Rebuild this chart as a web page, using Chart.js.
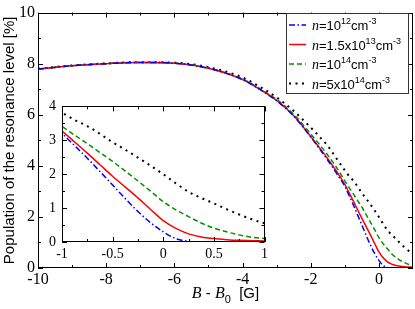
<!DOCTYPE html>
<html lang="en">
<head>
<meta charset="UTF-8" />
<title>Population of the resonance level</title>
<script src="https://cdn.jsdelivr.net/npm/chart.js"></script>
<style>
  html, body { margin: 0; padding: 0; background: #fff; }
  #wrap { position: relative; width: 415px; height: 309px; }
  #mainChart { position: absolute; left: 0; top: 0; }
  #insetChart { position: absolute; left: 40px; top: 92px; }
</style>
</head>
<body>
<div id="wrap">
  <canvas id="mainChart" width="415" height="309"></canvas>
  <canvas id="insetChart" width="232" height="172"></canvas>
</div>
<script>
// B - B0 [G]
const bField = [-10, -9, -8, -7, -6, -5, -4, -3.5, -3, -2.5, -2, -1.75, -1.5, -1.25, -1,
  -0.875, -0.75, -0.625, -0.5, -0.375, -0.25, -0.125, 0, 0.125, 0.25, 0.375, 0.5, 0.625, 0.75, 0.875, 1];

// population [%] for each density
const popN1e12 = [7.79, 7.92, 8.0, 8.05, 8.02, 7.82, 7.38, 7.0, 6.55, 5.95, 5.13, 4.68, 4.22, 3.72, 3.2,
  2.84, 2.47, 2.08, 1.68, 1.28, 0.9, 0.57, 0.3, 0.1, 0.02, 0, 0, 0, 0, 0, 0];
const popN15e13 = [7.79, 7.92, 8.0, 8.05, 8.02, 7.82, 7.38, 7.0, 6.56, 5.96, 5.15, 4.72, 4.28, 3.8, 3.27,
  2.95, 2.62, 2.28, 1.94, 1.62, 1.3, 0.96, 0.63, 0.4, 0.24, 0.15, 0.1, 0.07, 0.05, 0.04, 0.03];
const popN1e14 = [7.79, 7.92, 8.0, 8.05, 8.02, 7.83, 7.4, 7.03, 6.6, 6.02, 5.25, 4.85, 4.42, 3.95, 3.41,
  3.15, 2.9, 2.64, 2.38, 2.09, 1.8, 1.5, 1.19, 0.95, 0.75, 0.56, 0.41, 0.3, 0.21, 0.14, 0.1];
const popN5e14 = [7.8, 7.93, 8.01, 8.06, 8.04, 7.86, 7.46, 7.1, 6.68, 6.15, 5.5, 5.15, 4.78, 4.3, 3.82,
  3.6, 3.42, 3.19, 2.94, 2.72, 2.49, 2.25, 2.0, 1.73, 1.48, 1.3, 1.14, 0.97, 0.81, 0.67, 0.55];

// legend labels: [text, kind]  i = italic, s = superscript
const labelN1e12 = [['n', 'i'], ['=10', ''], ['12', 's'], ['cm', ''], ['-3', 's']];
const labelN15e13 = [['n', 'i'], ['=1.5x10', ''], ['13', 's'], ['cm', ''], ['-3', 's']];
const labelN1e14 = [['n', 'i'], ['=10', ''], ['14', 's'], ['cm', ''], ['-3', 's']];
const labelN5e14 = [['n', 'i'], ['=5x10', ''], ['14', 's'], ['cm', ''], ['-3', 's']];

const mainXTicks = [-10, -8, -6, -4, -2, 0];
const mainYTicks = [0, 2, 4, 6, 8, 10];
const insetXTicks = [-1, -0.5, 0, 0.5, 1];
const insetYTicks = [0, 1, 2, 3, 4];

const yTitle = 'Population of the resonance level [%]';
const xTitle = [['B', 'i'], [' - ', ''], ['B', 'i'], ['0', 'b'], ['  [G]', '']];

const series = [
  { label: labelN1e12, data: popN1e12, color: '#0000ff', dash: [6, 2.5, 1.5, 2.5], width: 1.5 },
  { label: labelN15e13, data: popN15e13, color: '#ff0000', dash: [], width: 1.5 },
  { label: labelN1e14, data: popN1e14, color: '#009000', dash: [5, 3], width: 1.5 },
  { label: labelN5e14, data: popN5e14, color: '#000000', dash: [2, 4.5], width: 2 },
];

const makeDatasets = () => series.map(s => ({
  data: bField.map((x, i) => ({ x, y: s.data[i] })),
  borderColor: s.color,
  borderDash: s.dash,
  borderWidth: s.width,
  pointRadius: 0,
  fill: false,
  cubicInterpolationMode: 'monotone',
}));

function drawRich(ctx, x, y, parts, size) {
  for (const [t, k] of parts) {
    let dy = 0;
    if (k === 'i') ctx.font = `italic ${size + 1}px "Liberation Serif"`;
    else if (k === 's') { ctx.font = `${Math.round(size * 0.72)}px "Liberation Sans"`; dy = -size * 0.45; }
    else if (k === 'b') { ctx.font = `${Math.round(size * 0.72)}px "Liberation Sans"`; dy = size * 0.3; }
    else ctx.font = `${size}px "Liberation Sans"`;
    ctx.fillText(t, x, y + dy);
    x += ctx.measureText(t).width;
  }
  return x;
}

function richWidth(ctx, parts, size) {
  ctx.save();
  ctx.globalAlpha = 0;
  const w = drawRich(ctx, 0, 0, parts, size);
  ctx.restore();
  return w;
}

// box with inward ticks on all four sides
const frameTicks = (o) => ({
  id: 'frameTicks',
  beforeDatasetsDraw(chart) {
    if (!o.fillWhite) return;
    const { ctx, chartArea: a } = chart;
    ctx.save();
    ctx.fillStyle = '#fff';
    ctx.fillRect(a.left, a.top, a.right - a.left, a.bottom - a.top);
    ctx.restore();
  },
  afterDatasetsDraw(chart) {
    const { ctx, chartArea: a, scales: { x, y } } = chart;
    ctx.save();
    ctx.strokeStyle = '#000';
    ctx.lineWidth = 1;
    ctx.beginPath();
    const vx = (v, len) => {
      const p = Math.round(x.getPixelForValue(v)) + 0.5;
      ctx.moveTo(p, a.bottom); ctx.lineTo(p, a.bottom - len);
      ctx.moveTo(p, a.top); ctx.lineTo(p, a.top + len);
    };
    const vy = (v, len) => {
      const p = Math.round(y.getPixelForValue(v)) + 0.5;
      ctx.moveTo(a.left, p); ctx.lineTo(a.left + len, p);
      ctx.moveTo(a.right, p); ctx.lineTo(a.right - len, p);
    };
    o.xMajor.forEach(v => vx(v, 5));
    o.xMinor.forEach(v => vx(v, 3));
    o.yMajor.forEach(v => vy(v, 5));
    o.yMinor.forEach(v => vy(v, 3));
    ctx.stroke();
    ctx.strokeRect(Math.round(a.left) + 0.5, Math.round(a.top) + 0.5,
      Math.round(a.right - a.left) - 1, Math.round(a.bottom - a.top) - 1);
    ctx.restore();
  }
});

const mainDecor = {
  id: 'mainDecor',
  afterDraw(chart) {
    const { ctx, chartArea: a } = chart;
    ctx.save();
    ctx.fillStyle = '#000';

    // y title
    ctx.save();
    ctx.translate(10, (a.top + a.bottom) / 2);
    ctx.rotate(-Math.PI / 2);
    ctx.font = '15px "Liberation Sans"';
    ctx.textAlign = 'center';
    ctx.textBaseline = 'middle';
    ctx.fillText(yTitle, 0, 0);
    ctx.restore();

    // x title
    ctx.textAlign = 'left';
    ctx.textBaseline = 'alphabetic';
    const w = richWidth(ctx, xTitle, 15);
    drawRich(ctx, (a.left + a.right) / 2 - w / 2, 298, xTitle, 15);

    // legend
    const box = { x: 286.5, y: 13.5, w: 122, h: 80 };
    ctx.fillStyle = '#fff';
    ctx.fillRect(box.x, box.y, box.w, box.h);
    ctx.strokeStyle = '#333';
    ctx.lineWidth = 1;
    ctx.strokeRect(box.x, box.y, box.w, box.h);
    ctx.fillStyle = '#000';
    series.forEach((s, i) => {
      const cy = 25 + i * 19.5;
      ctx.save();
      ctx.strokeStyle = s.color;
      ctx.lineWidth = s.width;
      ctx.setLineDash(s.dash);
      ctx.beginPath();
      ctx.moveTo(289, cy);
      ctx.lineTo(306, cy);
      ctx.stroke();
      ctx.restore();
      drawRich(ctx, 312, cy + 5, s.label, 13);
    });
    ctx.restore();
  }
};

const tickFont = (size) => ({ family: '"Liberation Serif", "Times New Roman", serif', size });

const mainChart = new Chart(document.getElementById('mainChart'), {
  type: 'line',
  data: { datasets: makeDatasets() },
  options: {
    responsive: false,
    animation: false,
    devicePixelRatio: 1,
    layout: { padding: { top: 6, right: 2, left: 0, bottom: 0 } },
    plugins: { legend: { display: false }, tooltip: { enabled: false } },
    scales: {
      x: {
        type: 'linear', min: -10, max: 1,
        grid: { display: false, drawTicks: false }, border: { display: false },
        afterBuildTicks: s => { s.ticks = mainXTicks.map(v => ({ value: v })); },
        afterFit: s => { s.height = 41; },
        ticks: { font: tickFont(16), color: '#000', padding: 2, maxRotation: 0, autoSkip: false, callback: v => String(v) },
      },
      y: {
        type: 'linear', min: 0, max: 10,
        grid: { display: false, drawTicks: false }, border: { display: false },
        afterBuildTicks: s => { s.ticks = mainYTicks.map(v => ({ value: v })); },
        afterFit: s => { s.width = 38; },
        ticks: { font: tickFont(16), color: '#000', padding: 3, autoSkip: false, callback: v => String(v) },
      },
    },
  },
  plugins: [frameTicks({
    xMajor: mainXTicks, xMinor: [-9, -7, -5, -3, -1],
    yMajor: mainYTicks, yMinor: [1, 3, 5, 7, 9],
  }), mainDecor],
});

const insetChart = new Chart(document.getElementById('insetChart'), {
  type: 'line',
  data: { datasets: makeDatasets() },
  options: {
    responsive: false,
    animation: false,
    devicePixelRatio: 1,
    layout: { padding: { top: 8, right: 5, left: 0, bottom: 0 } },
    plugins: { legend: { display: false }, tooltip: { enabled: false } },
    scales: {
      x: {
        type: 'linear', min: -1, max: 1,
        grid: { display: false, drawTicks: false }, border: { display: false },
        afterBuildTicks: s => { s.ticks = insetXTicks.map(v => ({ value: v })); },
        afterFit: s => { s.height = 22; },
        ticks: { font: tickFont(14), color: '#000', padding: 4, maxRotation: 0, autoSkip: false, callback: v => String(v) },
      },
      y: {
        type: 'linear', min: 0, max: 4,
        grid: { display: false, drawTicks: false }, border: { display: false },
        afterBuildTicks: s => { s.ticks = insetYTicks.map(v => ({ value: v })); },
        afterFit: s => { s.width = 22; },
        ticks: { font: tickFont(14), color: '#000', padding: 6, autoSkip: false, callback: v => String(v) },
      },
    },
  },
  plugins: [frameTicks({
    fillWhite: true,
    xMajor: insetXTicks, xMinor: [-0.75, -0.25, 0.25, 0.75],
    yMajor: insetYTicks, yMinor: [0.5, 1.5, 2.5, 3.5],
  })],
});
</script>
</body>
</html>
